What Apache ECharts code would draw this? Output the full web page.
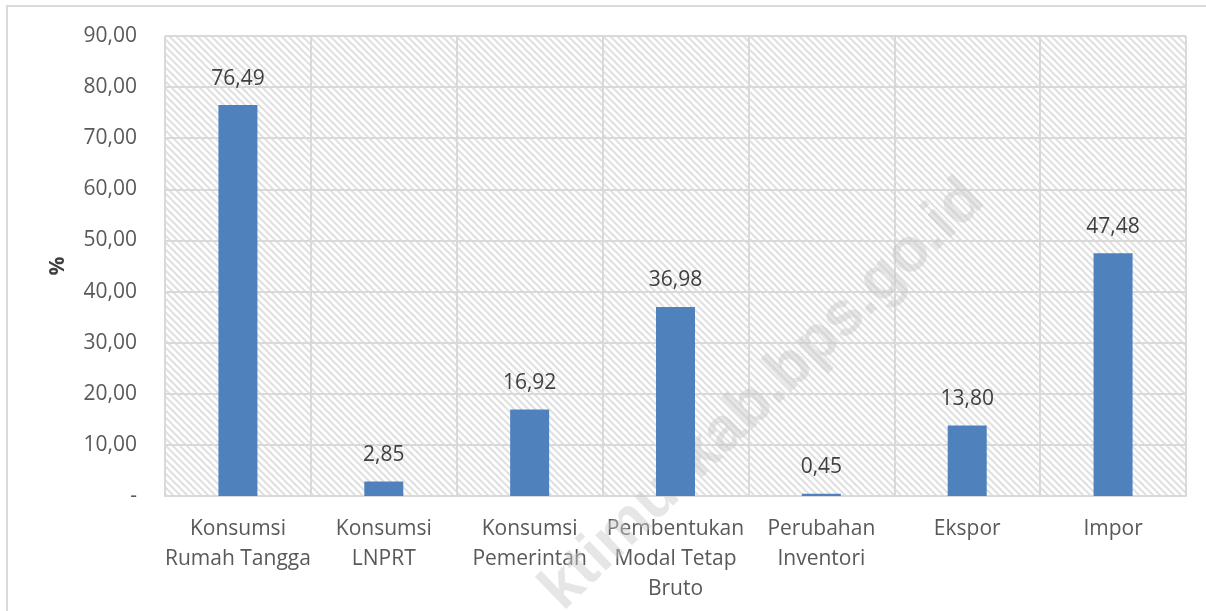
<!DOCTYPE html>
<html>
<head>
<meta charset="utf-8">
<script src="https://cdn.jsdelivr.net/npm/echarts@6/dist/echarts.min.js"></script>
<style>html,body{margin:0;padding:0;background:#fff}#c{width:1206px;height:611px}</style>
</head>
<body>
<div id="c"></div>
<script>
const categories = ['Konsumsi\nRumah Tangga', 'Konsumsi\nLNPRT', 'Konsumsi\nPemerintah', 'Pembentukan\nModal Tetap\nBruto', 'Perubahan\nInventori', 'Ekspor', 'Impor'];
const values = [76.49, 2.85, 16.92, 36.98, 0.45, 13.80, 47.48];
const yTicks = { min: 0, max: 90, interval: 10 };
const axisName = '%';
const watermark = 'ktimurkab.bps.go.id';

function fmt(v) { return v === 0 ? '-' : v.toFixed(2).replace('.', ','); }

// hatch pattern
const pc = document.createElement('canvas');
pc.width = 7; pc.height = 7;
const g = pc.getContext('2d');
g.fillStyle = '#ffffff'; g.fillRect(0, 0, 7, 7);
g.strokeStyle = '#e0e0e0'; g.lineWidth = 2;
g.beginPath();
g.moveTo(-1, -1); g.lineTo(8, 8);
g.moveTo(-1, 6); g.lineTo(1, 8);
g.moveTo(6, -1); g.lineTo(8, 1);
g.stroke();

const chart = echarts.init(document.getElementById('c'), null, { renderer: 'canvas' });
const font = '"Open Sans", sans-serif';
chart.setOption({
  animation: false,
  grid: {
    left: 165, right: 20, top: 36, bottom: 115,
    show: true,
    backgroundColor: { image: pc, repeat: 'repeat' },
    borderColor: '#d9d9d9', borderWidth: 1
  },
  graphic: [
    { type: 'rect', shape: { x: 7, y: 6, width: 1260, height: 700 }, style: { fill: 'none', stroke: '#d9d9d9', lineWidth: 2 }, silent: true, z: -10 },
    { type: 'text', x: 763, y: 395, rotation: 44 * Math.PI / 180, z: 1,
      style: { text: watermark, font: 'bold 62px "Liberation Sans", Arial, sans-serif', fill: 'rgba(200,200,200,0.45)', textAlign: 'center', textVerticalAlign: 'middle' }, silent: true }
  ],
  xAxis: {
    type: 'category',
    data: categories,
    axisLine: { show: true, lineStyle: { color: '#d9d9d9', width: 2 } },
    axisTick: { show: false },
    splitLine: { show: true, lineStyle: { color: '#d9d9d9', width: 2 } },
    axisLabel: { color: '#595959', fontSize: 21, fontFamily: font, lineHeight: 30, margin: 18, interval: 0 }
  },
  yAxis: {
    type: 'value',
    min: yTicks.min, max: yTicks.max, interval: yTicks.interval,
    name: axisName, nameLocation: 'middle', nameRotate: 90, nameGap: 96,
    nameTextStyle: { color: '#404040', fontSize: 21, fontFamily: font, fontWeight: 'bold' },
    axisLine: { show: false },
    axisTick: { show: false },
    splitLine: { show: true, lineStyle: { color: '#d9d9d9', width: 2 } },
    axisLabel: { color: '#595959', fontSize: 21, fontFamily: font, margin: 28, formatter: fmt }
  },
  series: [{
    type: 'bar',
    data: values,
    barWidth: 39,
    z: 3,
    itemStyle: { color: '#4f81bd' },
    label: { show: true, position: 'top', distance: 16, color: '#404040', fontSize: 21, fontFamily: font, formatter: p => fmt(p.value) }
  }]
});
</script>
</body>
</html>
